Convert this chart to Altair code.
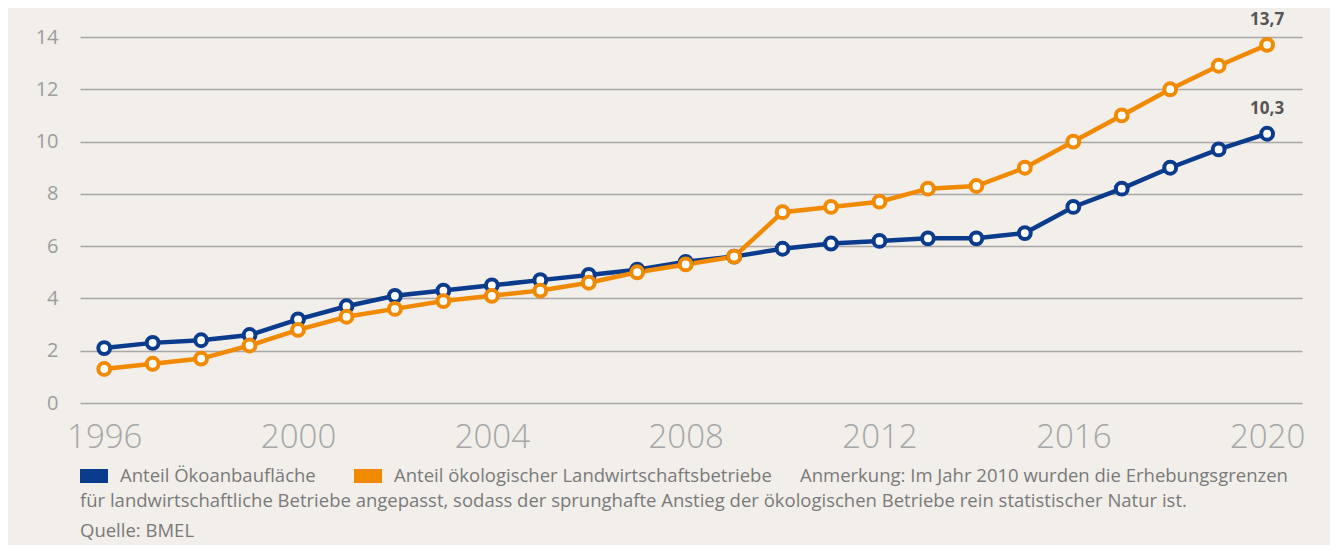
import altair as alt
import pandas as pd

years = list(range(1996, 2021))
flaeche = [2.1, 2.3, 2.4, 2.6, 3.2, 3.7, 4.1, 4.3, 4.5, 4.7, 4.9, 5.1, 5.4, 5.6,
           5.9, 6.1, 6.2, 6.3, 6.3, 6.5, 7.5, 8.2, 9.0, 9.7, 10.3]
betriebe = [1.3, 1.5, 1.7, 2.2, 2.8, 3.3, 3.6, 3.9, 4.1, 4.3, 4.6, 5.0, 5.3, 5.6,
            7.3, 7.5, 7.7, 8.2, 8.3, 9.0, 10.0, 11.0, 12.0, 12.9, 13.7]
series_names = ["Anteil Ökoanbaufläche", "Anteil ökologischer Landwirtschaftsbetriebe"]
series_colors = ["#0b3b8c", "#f18a00"]
x_ticks = [1996, 2000, 2004, 2008, 2012, 2016, 2020]
y_grid = list(range(0, 15))
note_line1 = "Anmerkung: Im Jahr 2010 wurden die Erhebungsgrenzen"
note_line2 = ("für landwirtschaftliche Betriebe angepasst, sodass der sprunghafte Anstieg "
              "der ökologischen Betriebe rein statistischer Natur ist.")
source = "Quelle: BMEL"

df = pd.concat([
    pd.DataFrame({"Jahr": years, "Wert": flaeche, "Serie": series_names[0]}),
    pd.DataFrame({"Jahr": years, "Wert": betriebe, "Serie": series_names[1]}),
])
df["Label"] = df["Wert"].map(lambda v: f"{v:.1f}".replace(".", ","))
last = df[df["Jahr"] == years[-1]]

FONT = "Open Sans"
TXT = "#7a7a7a"
FS = 18.5

x_enc = alt.X("Jahr:Q", scale=alt.Scale(domain=[1995.5, 2020.72], nice=False, zero=False),
              axis=alt.Axis(values=x_ticks, format="d", title=None, grid=False, domain=False,
                            ticks=False, labelFontSize=33, labelFont=FONT, labelFontWeight=300,
                            labelColor="#a6a6a6", labelPadding=18))
y_enc = alt.Y("Wert:Q", scale=alt.Scale(domain=[0, 14], nice=False),
              axis=alt.Axis(values=y_grid, title=None, domain=False, ticks=False,
                            labelExpr="datum.value % 2 == 0 ? datum.label : ''",
                            labelFontSize=20, labelFont=FONT, labelColor="#9d9d9d",
                            labelPadding=22, gridColor="#a8a8a8", gridWidth=1.3, gridOpacity=1))
color_enc = alt.Color("Serie:N", scale=alt.Scale(domain=series_names, range=series_colors),
                      legend=None)

base = alt.Chart(df)
lines = base.mark_line(strokeWidth=4.5).encode(x=x_enc, y=y_enc, color=color_enc,
                                               order=alt.Order("Jahr:Q"))
points = base.mark_point(filled=False, fill="white", fillOpacity=1, size=140,
                         strokeWidth=4, opacity=1).encode(
    x="Jahr:Q", y="Wert:Q",
    stroke=alt.Stroke("Serie:N", scale=alt.Scale(domain=series_names, range=series_colors),
                      legend=None))
labels = alt.Chart(last).mark_text(dy=-25, fontSize=17, fontWeight="bold", font=FONT,
                                   color="#555555").encode(x="Jahr:Q", y="Wert:Q", text="Label:N")

layers = [lines, points, labels]

# legend and notes (below plot)
dummy = pd.DataFrame({"a": [0]})
leg_x = [0, 274]
for name, col, lx in zip(series_names, series_colors, leg_x):
    layers.append(alt.Chart(dummy).mark_rect(color=col).encode(
        x=alt.value(lx), x2=alt.value(lx + 28), y=alt.value(432), y2=alt.value(446)))
    layers.append(alt.Chart(dummy).mark_text(align="left", baseline="middle", fontSize=FS,
                                             font=FONT, color=TXT).encode(
        x=alt.value(lx + 40), y=alt.value(439), text=alt.value(name)))
for txt, tx, ty in [(note_line1, 720, 439), (note_line2, 0, 464), (source, 0, 494)]:
    layers.append(alt.Chart(dummy).mark_text(align="left", baseline="middle", fontSize=FS,
                                             font=FONT, color=TXT).encode(
        x=alt.value(tx), y=alt.value(ty), text=alt.value(txt)))

chart = alt.layer(*layers).properties(
    width=1222, height=366,
    autosize=alt.AutoSizeParams(type="none"),
    padding={"left": 72, "top": 29, "right": 28, "bottom": 142},
    background="#f2eee9",
).configure_view(stroke=None)

chart.save("out.html", embed_options={"renderer": "svg", "actions": False})
